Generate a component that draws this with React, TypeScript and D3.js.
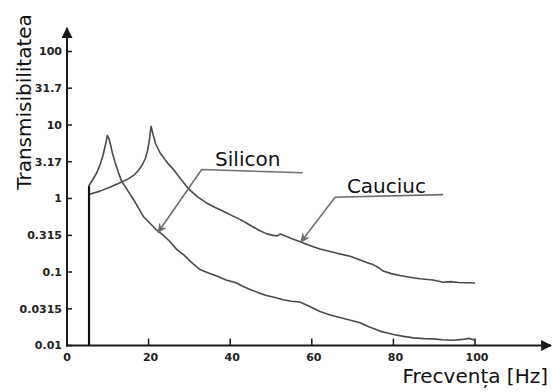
import React from 'react'
import * as d3 from 'd3'

// frecventa [Hz] / transmisibilitate
const siliconFreq = [5.3, 6.3, 7.3, 8.2, 8.9, 9.4, 9.9, 10.3, 10.7, 11.1, 11.8, 12.6, 13.4, 15.0, 16.3, 18.7, 20.5, 22.0, 23.5, 25.2, 27.0, 28.7, 30.5, 32.6, 34.5, 36.7, 39.0, 41.6, 43.0, 44.9, 47.0, 48.9, 51.0, 53.0, 55.0, 57.1, 59.5, 62.0, 64.5, 66.9, 69.5, 71.8, 74.0, 76.7, 78.5, 80.0, 82.5, 84.9, 87.5, 89.8, 92.0, 94.7, 97.0, 98.5, 100]
const siliconT = [1.47, 1.8, 2.24, 3.0, 4.0, 5.3, 7.2, 6.5, 5.3, 4.2, 3.1, 2.25, 1.72, 1.25, 0.97, 0.57, 0.45, 0.37, 0.32, 0.26, 0.2, 0.17, 0.135, 0.108, 0.098, 0.088, 0.078, 0.071, 0.064, 0.058, 0.052, 0.048, 0.045, 0.042, 0.04, 0.039, 0.034, 0.029, 0.026, 0.024, 0.022, 0.0204, 0.018, 0.0157, 0.0148, 0.0141, 0.0133, 0.0127, 0.0124, 0.0123, 0.012, 0.0118, 0.0121, 0.0125, 0.0118]

const cauciucFreq = [5.3, 8.1, 10.5, 13.0, 15.0, 16.5, 17.5, 18.5, 19.2, 19.8, 20.2, 20.6, 21.1, 21.7, 22.8, 24.5, 26.1, 28.0, 30.0, 32.0, 34.2, 36.2, 38.3, 40.3, 42.4, 45.0, 47.0, 49.0, 50.5, 51.5, 52.3, 53.5, 55.0, 57.0, 59.5, 62.0, 64.5, 66.5, 69.4, 72.0, 74.0, 75.0, 76.0, 77.5, 79.5, 81.6, 84.0, 86.5, 89.7, 92.2, 94.0, 96.0, 98.0, 100]
const cauciucT = [1.13, 1.26, 1.42, 1.64, 1.85, 2.1, 2.4, 2.9, 3.5, 4.6, 6.3, 9.6, 7.4, 5.6, 4.19, 3.1, 2.48, 1.8, 1.32, 1.05, 0.87, 0.76, 0.67, 0.59, 0.52, 0.43, 0.37, 0.33, 0.315, 0.31, 0.33, 0.31, 0.285, 0.26, 0.23, 0.205, 0.19, 0.178, 0.164, 0.145, 0.132, 0.126, 0.118, 0.103, 0.095, 0.0896, 0.085, 0.081, 0.078, 0.0726, 0.074, 0.072, 0.0715, 0.071]

// pornirea (linia verticala)
const startFreq = 5.4
const startTop = 1.47

const yTicks = [0.01, 0.0315, 0.1, 0.315, 1, 3.17, 10, 31.7, 100]
const yTickLabels = ['0.01', '0.0315', '0.1', '0.315', '1', '3.17', '10', '31.7', '100']
const xTicks = [0, 20, 40, 60, 80, 100]

// eticheta, varf sageata, cot, capat linie, pozitie text
const annotations = [
  { label: 'Silicon', tip: [22.3, 0.344], elbow: [33.0, 2.48], end: [57.8, 2.24], text: [36.3, 2.81] },
  { label: 'Cauciuc', tip: [57.3, 0.255], elbow: [65.7, 1.04], end: [92.2, 1.13], text: [68.6, 1.2] },
]

const W = 552
const H = 392

export default function App() {
  const x = d3.scaleLinear().domain([0, 100]).range([67, 475])
  const y = d3.scaleLog().domain([0.01, 100]).range([345.5, 51.5])

  const path = (fs: number[], ts: number[]) =>
    d3.line<number>().x(d => x(fs[d])).y(d => y(ts[d]))(d3.range(fs.length)) || ''

  const x0 = x(0)
  const y0 = y(0.01)
  const font = 'DejaVu Sans, Verdana, sans-serif'

  return (
    <div style={{ position: 'absolute', left: 0, top: 0 }}>
      <svg width={W} height={H} style={{ display: 'block', background: '#fff' }}>
        <defs>
          <marker id="ah" viewBox="0 0 10 10" refX="9" refY="5" markerWidth="10" markerHeight="10"
            markerUnits="userSpaceOnUse" orient="auto">
            <path d="M0,0.5 L10,5 L0,9.5 L3,5 Z" fill="#6e6e6e" />
          </marker>
          <marker id="axh" viewBox="0 0 10 10" refX="9" refY="5" markerWidth="11" markerHeight="11"
            markerUnits="userSpaceOnUse" orient="auto">
            <path d="M0,0 L10,5 L0,10 Z" fill="#1a1a1a" />
          </marker>
        </defs>

        {/* curbe */}
        <path d={path(siliconFreq, siliconT)} fill="none" stroke="#4a4a4a" strokeWidth={1.6} strokeLinejoin="round" />
        <path d={path(cauciucFreq, cauciucT)} fill="none" stroke="#4a4a4a" strokeWidth={1.6} strokeLinejoin="round" />
        <line x1={x(startFreq)} x2={x(startFreq)} y1={y0} y2={y(startTop)} stroke="#111" strokeWidth={2.2} />

        {/* axe */}
        <line x1={x0} x2={x0} y1={y0 + 1} y2={28} stroke="#1a1a1a" strokeWidth={2} markerEnd="url(#axh)" />
        <line x1={x0 - 1} x2={551} y1={y0} y2={y0} stroke="#1a1a1a" strokeWidth={2} markerEnd="url(#axh)" />

        {yTicks.map((t, i) => (
          <g key={t}>
            <line x1={x0} x2={x0 + 5} y1={y(t)} y2={y(t)} stroke="#1a1a1a" strokeWidth={1.5} />
            <text x={x0 - 5} y={y(t)} dy="0.35em" textAnchor="end" fontFamily={font}
              fontWeight="bold" fontSize={11} fill="#222">{yTickLabels[i]}</text>
          </g>
        ))}
        {xTicks.map(t => (
          <g key={t}>
            {t > 0 && <line x1={x(t)} x2={x(t)} y1={y0} y2={y0 - 7} stroke="#1a1a1a" strokeWidth={1.5} />}
            <text x={x(t) + (t > 0 ? 2 : 0)} y={y0 + 15.5} textAnchor="middle" fontFamily={font}
              fontWeight="bold" fontSize={11} fill="#222">{t}</text>
          </g>
        ))}

        <text transform={`translate(31,${102}) rotate(-90)`} textAnchor="middle" fontFamily={font}
          fontSize={20} fill="#111">Transmisibilitatea</text>
        <text x={548} y={383} textAnchor="end" fontFamily={font} fontSize={20} fill="#111">Frecvența [Hz]</text>

        {/* adnotari */}
        {annotations.map(a => (
          <g key={a.label}>
            <polyline
              points={[a.end, a.elbow, a.tip].map(p => `${x(p[0])},${y(p[1])}`).join(' ')}
              fill="none" stroke="#6e6e6e" strokeWidth={1.6} markerEnd="url(#ah)" />
            <text x={x(a.text[0])} y={y(a.text[1])} fontFamily={font} fontSize={20} fill="#111">{a.label}</text>
          </g>
        ))}
      </svg>
    </div>
  )
}
